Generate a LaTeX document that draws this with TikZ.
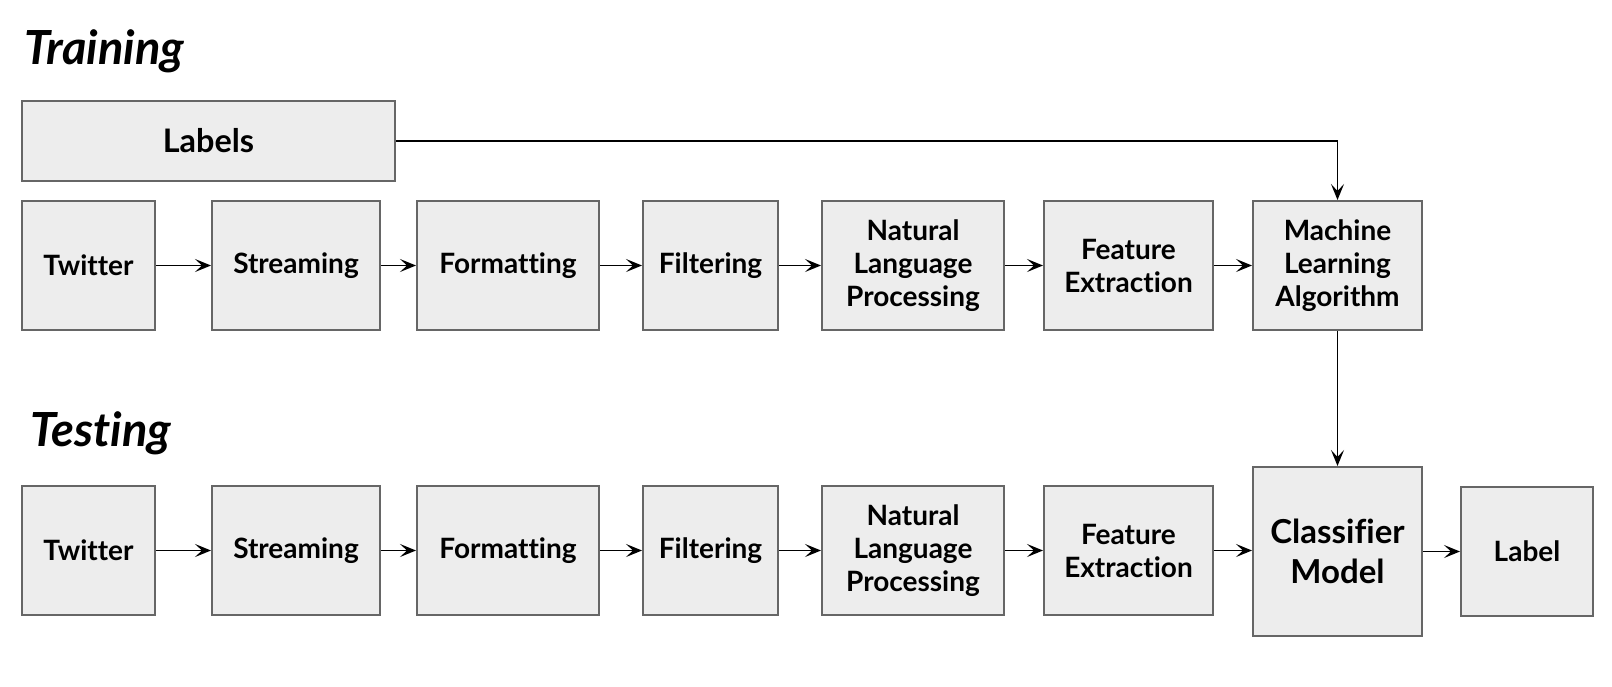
\documentclass[tikz,border=0pt]{standalone}
\usepackage{fontspec}
\setmainfont{Lato}[Ligatures={NoCommon,NoRare,NoContextual}]
\usetikzlibrary{arrows.meta}
\begin{document}
\begin{tikzpicture}[x=0.5pt,y=-0.5pt,
  box/.style={draw=black!60, line width=1pt, fill=black!7, align=center, inner sep=0pt,
    font=\fontsize{14}{16.5}\selectfont\bfseries},
  arr/.style={-{Stealth[length=8pt,width=6.5pt,inset=3.5pt]}, line width=0.8pt, black},
  title/.style={anchor=base west, inner sep=0pt, font=\fontsize{23.5}{28}\selectfont\bfseries\itshape}]
\useasboundingbox (0,0) rectangle (1612,686);
\node[title] (ttrain) at (24,64) {Training};
\node[title] (ttest) at (30,446) {Testing};
\node[box, minimum width=186.5pt, minimum height=40pt, font=\fontsize{16.2}{19}\selectfont\bfseries] (labels) at (208.5,141) {Labels};
% top row
\node[box, minimum width=66.5pt, minimum height=64.5pt] (tw1) at (88.5,265.5) {Twitter};
\node[box, minimum width=84pt, minimum height=64.5pt] (st1) at (296,265.5) {Streaming};
\node[box, minimum width=91pt, minimum height=64.5pt] (fo1) at (508,265.5) {Formatting};
\node[box, minimum width=67.5pt, minimum height=64.5pt] (fi1) at (710.5,265.5) {Filtering};
\node[box, minimum width=91pt, minimum height=64.5pt] (nl1) at (913,265.5) {Natural\\Language\\Processing};
\node[box, minimum width=84.5pt, minimum height=64.5pt] (fe1) at (1128.5,265.5) {Feature\\Extraction};
\node[box, minimum width=84.5pt, minimum height=64.5pt] (ml) at (1337.5,265.5) {Machine\\Learning\\Algorithm};
% bottom row
\node[box, minimum width=66.5pt, minimum height=64.5pt] (tw2) at (88.5,550.5) {Twitter};
\node[box, minimum width=84pt, minimum height=64.5pt] (st2) at (296,550.5) {Streaming};
\node[box, minimum width=91pt, minimum height=64.5pt] (fo2) at (508,550.5) {Formatting};
\node[box, minimum width=67.5pt, minimum height=64.5pt] (fi2) at (710.5,550.5) {Filtering};
\node[box, minimum width=91pt, minimum height=64.5pt] (nl2) at (913,550.5) {Natural\\Language\\Processing};
\node[box, minimum width=84.5pt, minimum height=64.5pt] (fe2) at (1128.5,550.5) {Feature\\Extraction};
\node[box, minimum width=84.5pt, minimum height=84.5pt, font=\fontsize{16.5}{20}\selectfont\bfseries] (cm) at (1337.5,551.5) {Classifier\\Model};
\node[box, minimum width=66pt, minimum height=64.5pt] (lb) at (1527,551.5) {Label};
% arrows
\draw[arr] (tw1) -- (st1);
\draw[arr] (st1) -- (fo1);
\draw[arr] (fo1) -- (fi1);
\draw[arr] (fi1) -- (nl1);
\draw[arr] (nl1) -- (fe1);
\draw[arr] (fe1) -- (ml);
\draw[arr] (tw2) -- (st2);
\draw[arr] (st2) -- (fo2);
\draw[arr] (fo2) -- (fi2);
\draw[arr] (fi2) -- (nl2);
\draw[arr] (nl2) -- (fe2);
\draw[arr] (fe2.east) -- (cm.west |- fe2.east);
\draw[arr] (cm.east |- lb.west) -- (lb.west);
\draw[arr] (labels.east) -| (ml.north);
\draw[arr] (ml.south) -- (cm.north);
\end{tikzpicture}
\end{document}
